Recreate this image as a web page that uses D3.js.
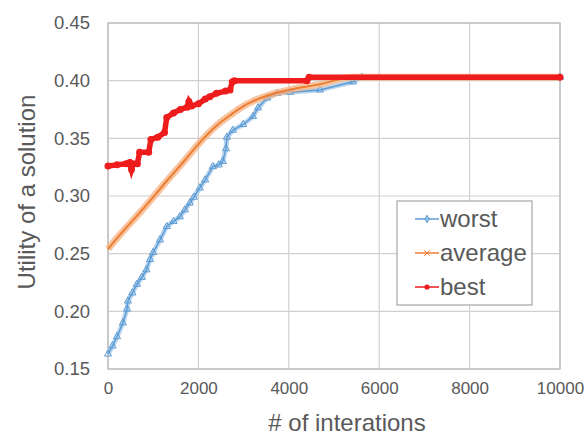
<!DOCTYPE html>
<html>
<head>
<meta charset="utf-8">
<script src="https://cdn.jsdelivr.net/npm/d3@7"></script>
<style>
  body { margin: 0; background: #fff; }
  text { font-family: "Liberation Sans", Arial, sans-serif; fill: #595959; }
</style>
</head>
<body>
<div id="chart"></div>
<script>
// --- Data ---
const worstIter = [0, 100, 200, 330, 420, 440, 540, 640, 750, 850, 930, 1000, 1150, 1300, 1450, 1590, 1700, 1810, 1900, 2030, 2150, 2320, 2450, 2540, 2610, 2630, 2760, 2990, 3210, 3320, 3520, 3740, 4030, 4690, 5420, 5620, 10000];
const worstVal  = [0.163, 0.170, 0.178, 0.190, 0.202, 0.209, 0.216, 0.2235, 0.2295, 0.236, 0.245, 0.251, 0.262, 0.2736, 0.278, 0.282, 0.288, 0.294, 0.299, 0.307, 0.314, 0.3255, 0.327, 0.330, 0.341, 0.351, 0.357, 0.362, 0.369, 0.3765, 0.385, 0.389, 0.390, 0.392, 0.399, 0.403, 0.403];

const avgIter = [0, 300, 600, 1000, 1300, 1700, 2000, 2400, 2700, 3000, 3200, 3600, 4000, 4700, 5400, 10000];
const avgVal  = [0.254, 0.268, 0.281, 0.299, 0.313, 0.331, 0.345, 0.361, 0.370, 0.378, 0.382, 0.388, 0.392, 0.397, 0.403, 0.403];

const bestIter = [0, 200, 400, 480, 520, 560, 650, 700, 900, 950, 1100, 1250, 1300, 1450, 1600, 1750, 1790, 1850, 2000, 2150, 2250, 2400, 2600, 2700, 2750, 2800, 4400, 4450, 10000];
const bestVal  = [0.326, 0.327, 0.328, 0.329, 0.323, 0.328, 0.328, 0.338, 0.338, 0.349, 0.351, 0.355, 0.368, 0.372, 0.375, 0.377, 0.382, 0.378, 0.380, 0.384, 0.386, 0.389, 0.391, 0.392, 0.399, 0.400, 0.400, 0.403, 0.403];

const xTicks = [0, 2000, 4000, 6000, 8000, 10000];
const yTicks = [0.15, 0.20, 0.25, 0.30, 0.35, 0.40, 0.45];
const seriesNames = ["worst", "average", "best"];

// --- Layout ---
const W = 587, H = 435;
const margin = { top: 23, right: 27, bottom: 66, left: 108 };
const width = W - margin.left - margin.right;
const height = H - margin.top - margin.bottom;

const svg = d3.select("#chart").append("svg")
  .attr("width", W).attr("height", H);

const g = svg.append("g")
  .attr("transform", `translate(${margin.left},${margin.top})`);

const x = d3.scaleLinear().domain([0, 10000]).range([0, width]);
const y = d3.scaleLinear().domain([0.15, 0.45]).range([height, 0]);

// gridlines
g.append("g").selectAll("line.v").data(xTicks).join("line")
  .attr("x1", d => x(d)).attr("x2", d => x(d))
  .attr("y1", 0).attr("y2", height)
  .attr("stroke", "#d0d0d0").attr("stroke-width", 1.2);
g.append("g").selectAll("line.h").data(yTicks).join("line")
  .attr("x1", 0).attr("x2", width)
  .attr("y1", d => y(d)).attr("y2", d => y(d))
  .attr("stroke", "#d0d0d0").attr("stroke-width", 1.2);
g.append("rect").attr("width", width).attr("height", height)
  .attr("fill", "none").attr("stroke", "#b8b8b8").attr("stroke-width", 1.2);

// axes labels (use d3 axes, hide domain/ticks)
const xAxis = g.append("g").attr("transform", `translate(0,${height})`)
  .call(d3.axisBottom(x).tickValues(xTicks).tickFormat(d3.format("d")).tickSize(0).tickPadding(13));
const yAxis = g.append("g")
  .call(d3.axisLeft(y).tickValues(yTicks).tickFormat(d3.format(".2f")).tickSize(0).tickPadding(18));
[xAxis, yAxis].forEach(a => {
  a.select(".domain").remove();
  a.selectAll("text").attr("fill", "#595959")
    .style("font-family", '"Liberation Sans", Arial, sans-serif');
});
xAxis.selectAll("text").style("font-size", "17px");
yAxis.selectAll("text").style("font-size", "18.5px");

// axis titles
svg.append("text").attr("x", 347).attr("y", 431).attr("text-anchor", "middle")
  .style("font-size", "24px").text("# of interations");
svg.append("text").attr("transform", "translate(35,192) rotate(-90)")
  .attr("text-anchor", "middle").style("font-size", "24px").text("Utility of a solution");

// --- Series ---
const line = d3.line().x(d => x(d[0])).y(d => y(d[1]));
const zip = (a, b) => a.map((v, i) => [v, b[i]]);
const worst = zip(worstIter, worstVal);
const avg = zip(avgIter, avgVal);
const best = zip(bestIter, bestVal);

const plot = g.append("g");

// worst: blue, open triangles
plot.append("path").datum(worst).attr("d", line)
  .attr("fill", "none").attr("stroke", "#9dc3e6").attr("stroke-width", 5).attr("opacity", 0.7);
plot.append("path").datum(worst).attr("d", line)
  .attr("fill", "none").attr("stroke", "#5b9bd5").attr("stroke-width", 1.5);
plot.append("g").selectAll("path").data(worst).join("path")
  .attr("transform", d => `translate(${x(d[0])},${y(d[1])})`)
  .attr("d", d3.symbol(d3.symbolTriangle, 22))
  .attr("fill", "none").attr("stroke", "#5b9bd5").attr("stroke-width", 1);

// average: orange, x markers
plot.append("path").datum(avg).attr("d", d3.line().curve(d3.curveMonotoneX).x(d => x(d[0])).y(d => y(d[1])))
  .attr("fill", "none").attr("stroke", "#f4b183").attr("stroke-width", 7).attr("opacity", 0.75);
plot.append("path").datum(avg).attr("d", d3.line().curve(d3.curveMonotoneX).x(d => x(d[0])).y(d => y(d[1])))
  .attr("fill", "none").attr("stroke", "#ed7d31").attr("stroke-width", 2);

// best: red, dots
plot.append("path").datum(best).attr("d", line)
  .attr("fill", "none").attr("stroke", "#ee1c1c").attr("stroke-width", 5.5);
plot.append("g").selectAll("circle").data(best).join("circle")
  .attr("cx", d => x(d[0])).attr("cy", d => y(d[1])).attr("r", 3.5)
  .attr("fill", "#ee1c1c");

// --- Legend ---
const legend = svg.append("g");
legend.append("rect").attr("x", 397).attr("y", 201).attr("width", 135).attr("height", 104)
  .attr("fill", "#fff").attr("stroke", "#a6a6a6").attr("stroke-width", 1.2);
const legColors = ["#5b9bd5", "#ed7d31", "#ee1c1c"];
seriesNames.forEach((name, i) => {
  const cy = 219 + i * 34;
  legend.append("line").attr("x1", 415).attr("x2", 439).attr("y1", cy).attr("y2", cy)
    .attr("stroke", legColors[i]).attr("stroke-width", 1.5);
  if (i === 0) {
    legend.append("path").attr("transform", `translate(427,${cy})`)
      .attr("d", d3.symbol(d3.symbolDiamond, 16)).attr("fill", "#9dc3e6").attr("stroke", legColors[i]);
  } else if (i === 1) {
    legend.append("path").attr("transform", `translate(427,${cy})`)
      .attr("d", d3.symbol(d3.symbolX, 22)).attr("fill", "none").attr("stroke", legColors[i]);
  } else {
    legend.append("circle").attr("cx", 427).attr("cy", cy).attr("r", 2.6).attr("fill", legColors[i]);
  }
  legend.append("text").attr("x", 440).attr("y", cy + 8)
    .style("font-size", "24px").text(name);
});
</script>
</body>
</html>
